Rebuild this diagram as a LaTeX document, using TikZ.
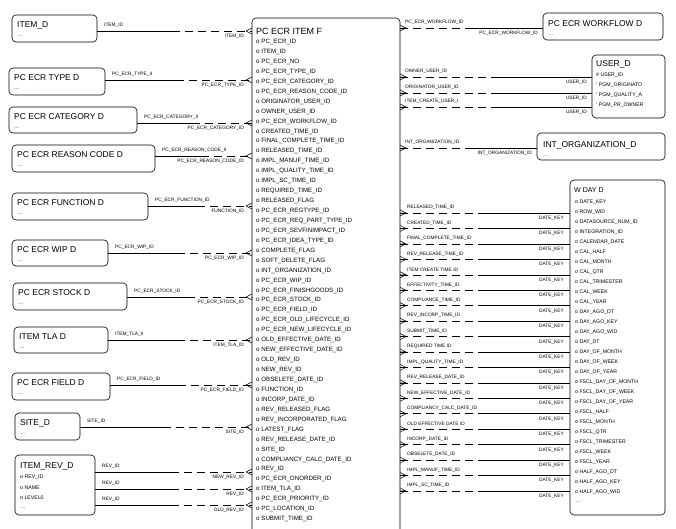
\documentclass[tikz,border=0pt]{standalone}
\usepackage{fontspec}
\setmainfont{Liberation Sans}
\usetikzlibrary{fit}
\begin{document}
\begin{tikzpicture}[x=1pt,y=-1pt,
  box/.style={draw,rounded corners=4pt,inner sep=0pt,line width=0.6pt},
  ttl/.style={font=\fontsize{8.5}{9}\selectfont,inner sep=0pt,anchor=west},
  att/.style={font=\fontsize{6.2}{7}\selectfont,inner sep=0pt,anchor=west},
  sat/.style={font=\fontsize{5.2}{6}\selectfont,inner sep=0pt,anchor=west},
  lbl/.style={font=\fontsize{4.8}{5}\selectfont,inner sep=0pt},
  con/.style={line width=0.5pt},
  dsh/.style={line width=0.5pt,dash pattern=on 8pt off 5pt}]
\useasboundingbox (0,0) rectangle (676,528);
\clip (0,0) rectangle (676,528);
\fill[white] (0,0) rectangle (676,528);
% central entity
\node[box,fit={(252,18)(400,545)}] (F) {};
\node[ttl,font=\fontsize{9}{10}\selectfont] (Ft) at (256,31) {PC ECR ITEM F};
\foreach \t [count=\i from 0] in {PC\_ECR\_ID,ITEM\_ID,PC\_ECR\_NO,PC\_ECR\_TYPE\_ID,PC\_ECR\_CATEGORY\_ID,PC\_ECR\_REASON\_CODE\_ID,ORIGINATOR\_USER\_ID,OWNER\_USER\_ID,PC\_ECR\_WORKFLOW\_ID,CREATED\_TIME\_ID,FINAL\_COMPLETE\_TIME\_ID,RELEASED\_TIME\_ID,IMPL\_MANUF\_TIME\_ID,IMPL\_QUALITY\_TIME\_ID,IMPL\_SC\_TIME\_ID,REQUIRED\_TIME\_ID,RELEASED\_FLAG,PC\_ECR\_REGTYPE\_ID,PC\_ECR\_REQ\_PART\_TYPE\_ID,PC\_ECR\_SEVFINIMPACT\_ID,PC\_ECR\_IDEA\_TYPE\_ID,COMPLETE\_FLAG,SOFT\_DELETE\_FLAG,INT\_ORGANIZATION\_ID,PC\_ECR\_WIP\_ID,PC\_ECR\_FINISHGOODS\_ID,PC\_ECR\_STOCK\_ID,PC\_ECR\_FIELD\_ID,PC\_ECR\_OLD\_LIFECYCLE\_ID,PC\_ECR\_NEW\_LIFECYCLE\_ID,OLD\_EFFECTIVE\_DATE\_ID,NEW\_EFFECTIVE\_DATE\_ID,OLD\_REV\_ID,NEW\_REV\_ID,OBSELETE\_DATE\_ID,FUNCTION\_ID,INCORP\_DATE\_ID,REV\_RELEASED\_FLAG,REV\_INCORPORATED\_FLAG,LATEST\_FLAG,REV\_RELEASE\_DATE\_ID,SITE\_ID,COMPLIANCY\_CALC\_DATE\_ID,REV\_ID,PC\_ECR\_ONORDER\_ID,ITEM\_TLA\_ID,PC\_ECR\_PRIORITY\_ID,PC\_LOCATION\_ID,SUBMIT\_TIME\_ID}
  \node[att] (Fa\i) at (256,{42+9.94*\i}) {o \t};
% left entities
\foreach \n/\xa/\ya/\xb/\yb/\t in {itemd/12/15/97/42/ITEM\_D,typed/9/68/105/95/PC ECR TYPE D,catd/9/107/137/133/PC ECR CATEGORY D,reasd/12/145/155/172/PC ECR REASON CODE D,funcd/12/193/148/220/PC ECR FUNCTION D,wipd/12/240/108/266/PC ECR WIP D,stockd/13/283/127/310/PC ECR STOCK D,tlad/14/327/108/353/ITEM TLA D,fieldd/12/373/110/400/PC ECR FIELD D,sited/15/413/80/440/SITE\_D}{
  \node[box,fit={(\xa,\ya)(\xb,\yb)}] (\n) {};
  \node[ttl] (\n t) at (\xa+5,\ya+10) {\t};
  \node[sat] (\n d) at (\xa+5,\ya+21) {\dots};
}
\node[box,fit={(15,455)(95,515)}] (revd) {};
\node[ttl] (revdt) at (20,466) {ITEM\_REV\_D};
\foreach \t [count=\i from 0] in {o REV\_ID,o NAME,o LEVEL0,\dots}
  \node[sat] (reva\i) at (20,{477+10.5*\i}) {\t};
% left connectors
\foreach \n/\xb/\y/\ta/\tb [count=\k] in {itemd/97/31/ITEM\_ID/ITEM\_ID,typed/105/80/PC\_ECR\_TYPE\_II/PC\_ECR\_TYPE\_ID,catd/137/123/PC\_ECR\_CATEGORY\_II/PC\_ECR\_CATEGORY\_ID,reasd/155/156/PC\_ECR\_REASON\_CODE\_II/PC\_ECR\_REASON\_CODE\_ID,funcd/148/206/PC\_ECR\_FUNCTION\_ID/FUNCTION\_ID,wipd/108/253/PC\_ECR\_WIP\_ID/PC\_ECR\_WIP\_ID,stockd/127/297/PC\_ECR\_STOCK\_ID/PC\_ECR\_STOCK\_ID,tlad/108/340/ITEM\_TLA\_II/ITEM\_TLA\_ID,fieldd/110/385/PC\_ECR\_FIELD\_ID/PC\_ECR\_FIELD\_ID,sited/80/427/SITE\_ID/SITE\_ID,revd/95/472/REV\_ID/NEW\_REV\_ID,revd/95/489/REV\_ID/REV\_ID,revd/95/505/REV\_ID/OLD\_REV\_ID}{
  \coordinate (ls\k) at (\xb,\y);
  \coordinate (lm\k) at ({(\xb+246)/2},\y);
  \coordinate (le\k) at (252,\y);
  \draw[con] (ls\k) -- (lm\k);
  \draw[dsh] (lm\k) -- (le\k);
  \draw[con] (246,\y) -- (252,\y-3) (246,\y) -- (252,\y+3);
  \node[lbl,anchor=south west] (lt\k) at (\xb+7,\y-3) {\ta};
  \node[lbl,anchor=north east] (lb\k) at (244,\y+3) {\tb};
}
% right entities
\node[box,fit={(543,13)(663,40)}] (wf) {};
\node[ttl] (wft) at (548,24) {PC ECR WORKFLOW D};
\node[sat] (wfd) at (548,35) {\dots};
\node[box,fit={(592,55)(665,118)}] (user) {};
\node[ttl] (usert) at (596,64) {USER\_D};
\foreach \t [count=\i from 0] in {\# USER\_ID,' PGM\_ORIGINATO,' PGM\_QUALITY\_A,' PGM\_PR\_OWNER}
  \node[sat] (usera\i) at (596,{75+10*\i}) {\t};
\node[box,fit={(537,133)(665,160)}] (org) {};
\node[ttl] (orgt) at (543,145) {INT\_ORGANIZATION\_D};
\node[sat] (orgd) at (543,156) {\dots};
\node[box,fit={(570,180)(665,515)}] (wday) {};
\node[ttl,font=\fontsize{7}{8}\selectfont] (wdayt) at (574,190) {W DAY D};
\foreach \t [count=\i from 0] in {o DATE\_KEY,o ROW\_WID,o DATASOURCE\_NUM\_ID,o INTEGRATION\_ID,o CALENDAR\_DATE,o CAL\_HALF,o CAL\_MONTH,o CAL\_QTR,o CAL\_TRIMESTER,o CAL\_WEEK,o CAL\_YEAR,o DAY\_AGO\_DT,o DAY\_AGO\_KEY,o DAY\_AGO\_WID,o DAY\_DT,o DAY\_OF\_MONTH,o DAY\_OF\_WEEK,o DAY\_OF\_YEAR,o FSCL\_DAY\_OF\_MONTH,o FSCL\_DAY\_OF\_WEEK,o FSCL\_DAY\_OF\_YEAR,o FSCL\_HALF,o FSCL\_MONTH,o FSCL\_QTR,o FSCL\_TRIMESTER,o FSCL\_WEEK,o FSCL\_YEAR,o HALF\_AGO\_DT,o HALF\_AGO\_KEY,o HALF\_AGO\_WID,\dots}
  \node[sat] (wa\i) at (575,{202.5+10*\i}) {\t};
% right connectors
\foreach \xe/\y/\ta/\tb [count=\k] in {543/28/PC\_ECR\_WORKFLOW\_ID/PC\_ECR\_WORKFLOW\_ID,592/77/OWNER\_USER\_ID/USER\_ID,592/93/ORIGINATOR\_USER\_ID/USER\_ID,592/107/ITEM\_CREATE\_USER\_I/USER\_ID,537/148/INT\_ORGANIZATION\_ID/INT\_ORGANIZATION\_ID}{
  \coordinate (rs\k) at (400,\y);
  \coordinate (rm\k) at ({(400+\xe)/2},\y);
  \coordinate (re\k) at (\xe,\y);
  \draw[dsh] (rs\k) -- (rm\k);
  \draw[con] (rm\k) -- (re\k);
  \draw[con] (400,\y-3) -- (406,\y) -- (400,\y+3) (400,\y) -- (406,\y);
  \node[lbl,anchor=south west] (rt\k) at (405,\y-3) {\ta};
  \node[lbl,anchor=north east] (rb\k) at (\xe-5,\y+3) {\tb};
}
\foreach \t [count=\i from 0] in {RELEASED\_TIME\_ID,CREATED\_TIME\_ID,FINAL\_COMPLETE\_TIME\_ID,REV\_RELEASE\_TIME\_ID,ITEM CREATE TIME ID,EFFECTIVITY\_TIME\_ID,COMPLIANCE\_TIME\_ID,REV\_INCORP\_TIME\_ID,SUBMIT\_TIME\_ID,REQUIRED TIME ID,IMPL\_QUALITY\_TIME\_ID,REV\_RELEASE\_DATE\_ID,NEW\_EFFECTIVE\_DATE\_ID,COMPLIANCY\_CALC\_DATE\_ID,OLD EFFECTIVE DATE ID,INCORP\_DATE\_ID,OBSELETE\_DATE\_ID,IMPL\_MANUF\_TIME\_ID,IMPL\_SC\_TIME\_ID}{
  \pgfmathsetmacro\y{213+15.44*\i}
  \coordinate (ds\i) at (400,\y);
  \coordinate (dm\i) at (485,\y);
  \coordinate (de\i) at (570,\y);
  \draw[dsh] (ds\i) -- (dm\i);
  \draw[con] (dm\i) -- (de\i);
  \draw[con] (400,\y-3) -- (406,\y) -- (400,\y+3) (400,\y) -- (406,\y);
  \node[lbl,anchor=south west] (dt\i) at (407,\y-3) {\t};
  \node[lbl,anchor=north east] (db\i) at (564,\y+3) {DATE\_KEY};
}
\end{tikzpicture}
\end{document}
